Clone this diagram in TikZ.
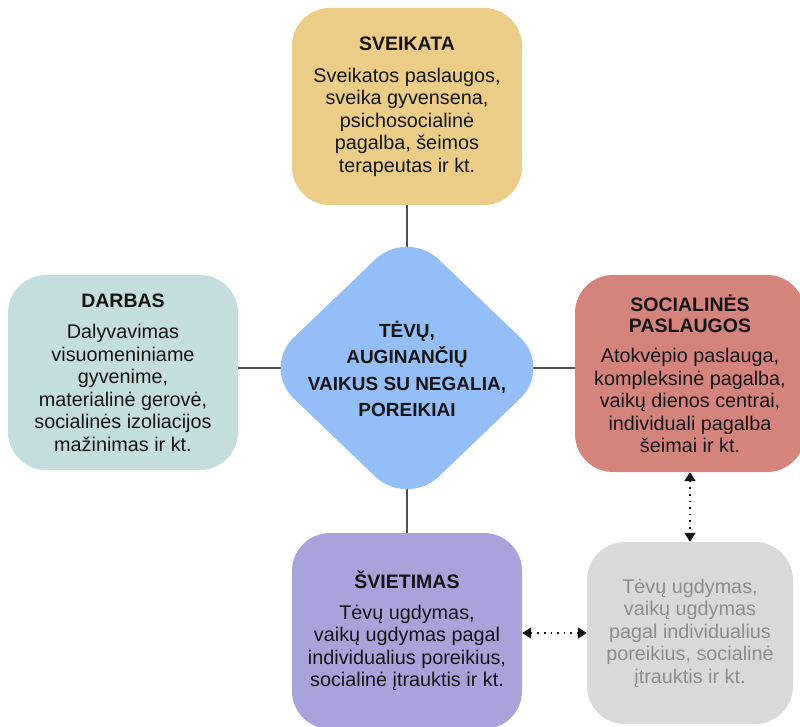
\documentclass[tikz,border=0pt]{standalone}
\usepackage{fontspec}
\setmainfont{Liberation Sans}
\usetikzlibrary{arrows.meta}

\definecolor{ink}{HTML}{141414}
\definecolor{linkgrey}{HTML}{505050}
\definecolor{healthfill}{HTML}{EBCD87}
\definecolor{workfill}{HTML}{C4DEDE}
\definecolor{hubfill}{HTML}{93BEF8}
\definecolor{socialfill}{HTML}{D5847D}
\definecolor{edufill}{HTML}{A8A3DA}
\definecolor{mutedfill}{HTML}{D9D9D9}
\definecolor{mutedtext}{HTML}{8C8C8C}

\newcommand{\bodyfont}{\fontsize{19.8}{22.5}\selectfont}
\newcommand{\headfont}{\bfseries\fontsize{19.5}{22.5}\selectfont}

\tikzset{
  card/.style={rectangle, rounded corners=38pt, inner sep=0pt,
    minimum width=230pt, minimum height=197pt, align=center,
    text=ink, font=\bodyfont},
  link/.style={draw=linkgrey, line width=1.5pt},
  dotlink/.style={draw=ink, line width=1.6pt, dash pattern=on 1.6pt off 5pt,
    {Triangle[width=11pt,length=9pt]}-{Triangle[width=11pt,length=9pt]}},
  hubtext/.style={align=center, text=ink, inner sep=0pt,
    font=\bfseries\fontsize{19}{26.5}\selectfont}
}

\begin{document}
\begin{tikzpicture}[x=1pt,y=-1pt]
\useasboundingbox (0,0) rectangle (800,727);

% the five topic cards
\node[card, fill=healthfill] (sveikata) at (407,106.5)
  {{\headfont SVEIKATA}\\[9pt]Sveikatos paslaugos,\\sveika gyvensena,\\psichosocialinė\\pagalba, šeimos\\terapeutas ir kt.};
\node[card, fill=workfill, minimum height=195pt] (darbas) at (123,372.5)
  {{\headfont DARBAS}\\[9pt]Dalyvavimas\\visuomeniniame\\gyvenime,\\materialinė gerovė,\\socialinės izoliacijos\\mažinimas ir kt.};
\node[card, fill=socialfill] (social) at (690,373.5)
  {{\headfont SOCIALINĖS}\\[-1.5pt]{\headfont PASLAUGOS}\\[8pt]Atokvėpio paslauga,\\kompleksinė pagalba,\\vaikų dienos centrai,\\individuali pagalba\\šeimai ir kt.};
\node[card, fill=edufill, minimum height=196pt] (svietimas) at (407,631)
  {{\headfont ŠVIETIMAS}\\[8pt]Tėvų ugdymas,\\vaikų ugdymas pagal\\individualius poreikius,\\socialinė įtrauktis ir kt.};
\node[card, fill=mutedfill, text=mutedtext, minimum width=206pt, minimum height=182pt] (muted) at (690,633)
  {Tėvų ugdymas,\\vaikų ugdymas\\pagal individualius\\poreikius, socialinė\\įtrauktis ir kt.};

% spokes from the cards to the centre
\coordinate (hub) at (407,368);
\draw[link] (sveikata) -- (hub);
\draw[link] (svietimas) -- (hub);
\draw[link] (hub -| darbas.east) -- (hub);
\draw[link] (hub -| social.west) -- (hub);

% rounded diamond in the centre
\fill[hubfill, rounded corners=44pt]
  ([shift={(0,-139)}]hub) -- ([shift={(145,0)}]hub) --
  ([shift={(0,139)}]hub) -- ([shift={(-145,0)}]hub) -- cycle;
\node[hubtext] (hubtext) at (407,369)
  {TĖVŲ,\\AUGINANČIŲ\\VAIKUS SU NEGALIA,\\POREIKIAI};

% dotted two-way links to the muted card
\draw[dotlink] (social) -- (muted);
\draw[dotlink] (muted.west -| svietimas.east) -- (muted.west);
\end{tikzpicture}
\end{document}
